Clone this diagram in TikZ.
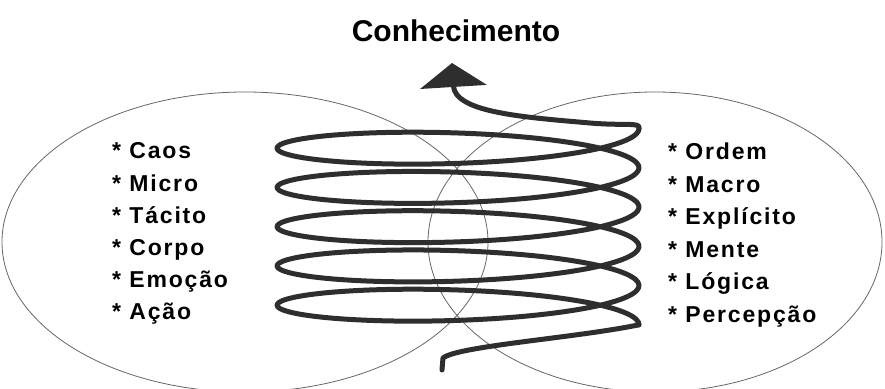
\documentclass[tikz,border=0pt]{standalone}
\usepackage{fontspec}
\setmainfont{Liberation Sans}
\newfontfamily\listfont[LetterSpace=8]{Liberation Sans}
\usetikzlibrary{arrows.meta}
\tikzset{coil/.style={line width=5pt, line cap=round, line join=round, draw=black!82}}

\begin{document}
\begin{tikzpicture}[
      x=1pt, y=1pt,
      every node/.style={inner sep=0pt},
      item/.style={anchor=base west, font=\listfont\bfseries\fontsize{23}{27}\selectfont},
      field/.style={draw=black!60, line width=0.8pt},
      title/.style={anchor=base, font=\bfseries\fontsize{30}{36}\selectfont},
  ]
    \useasboundingbox (0,0) rectangle (885,388);

    %% --- two overlapping fields ---
    \draw[field] (245,146) ellipse [x radius=243pt, y radius=150pt];
    \draw[field] (655,146) ellipse [x radius=227pt, y radius=150pt];

    %% --- spiral ---
    \coordinate (foot) at (442,18);
    \coordinate (start) at (639,63.2);
    \coordinate (finish) at (639,259.5);
    \coordinate (apex) at (452,325);
    \draw[coil] (foot) -- ++(1,12) .. controls +(15,12) and (575,50) .. (start);
    \draw[coil] plot[domain=0:1800, samples=360, smooth]
      ({458+181*cos(\x)}, {63.2+\x/360*39.25+25*sin(\x)});
    \draw[coil, -{Triangle[width=66pt, length=24pt]}] (finish)
      .. controls (641,266) and (625,262) .. (590,265)
      .. controls (520,271) and (455,276) .. (apex);

    %% --- title ---
    \node[title] (knowledge) at (456,346) {Conhecimento};

    %% --- lists ---
    \foreach \w [count=\i] in {Caos, Micro, Tácito, Corpo, Emoção, Ação}
      \node[item] (left\i) at (112, {229-32.2*(\i-1)}) {* \w};
    \foreach \w [count=\i] in {Ordem, Macro, Explícito, Mente, Lógica, Percepção}
      \node[item] (right\i) at (668, {228-32.4*(\i-1)}) {* \w};
  \end{tikzpicture}
\end{document}
